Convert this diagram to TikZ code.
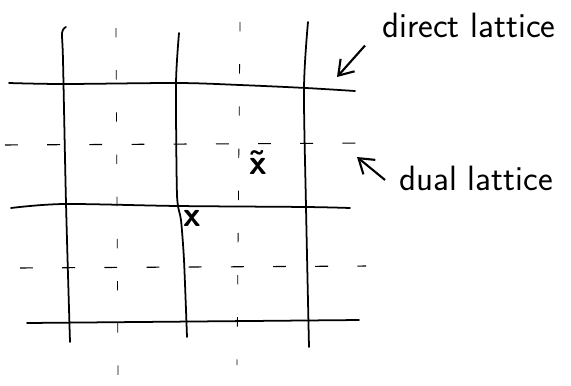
\documentclass[tikz,border=0pt]{standalone}
\usetikzlibrary{arrows.meta}
\begin{document}
\begin{tikzpicture}[
    x=0.03cm, y=-0.03cm,
    direct/.style={line width=1.5pt, line cap=round},
    dualh/.style={line width=0.9pt, dash pattern=on 11pt off 25pt},
    dualv/.style={line width=0.7pt, dash pattern=on 8pt off 28pt},
    lbl/.style={inner sep=0pt, anchor=base west, font=\sffamily\fontsize{30}{34}\selectfont},
    site/.style={inner sep=0pt, anchor=base, font=\sffamily\bfseries\fontsize{30}{34}\selectfont},
    pointer/.style={-{Straight Barb[length=12pt,width=16pt]}, line width=1.8pt}
]
    \useasboundingbox (0,0) rectangle (571,385);

    \draw[dualv] (116,28) -- (118,377);
    \draw[dualv] (240,22) -- (237,365);
    \draw[dualh] (5,145) -- (372,143);
    \draw[dualh] (20,268) -- (366,266);

    \draw[direct] plot[smooth] coordinates {(9,83) (64,84) (178,83) (240,85) (306,88) (355,91)};
    \draw[direct] plot[smooth] coordinates {(11,208) (64,204) (178,206) (306,207) (350,208)};
    \draw[direct] (27,323) -- (359,320);
    \draw[direct] plot[smooth] coordinates {(66,27) (62,33) (63,60) (66,203) (70,342)};
    \draw[direct] plot[smooth, tension=0.4] coordinates {(179,33) (176,83) (177,195) (181,220) (184,260) (187,337)};
    \draw[direct] plot[smooth] coordinates {(308,22) (304,88) (306,207) (309,347)};

    \node[site] (xt) at (258,174) {\~{x}};
    \node[site] (xo) at (192,226) {x};

    \node[lbl] (dirlabel) at (382,37) {direct lattice};
    \node[lbl] (duallabel) at (399,190) {dual lattice};
    \coordinate (dirtip) at (337,77);
    \coordinate (dualtip) at (357,157);

    \draw[pointer] ([shift={(-17,8)}]dirlabel.south west) -- (dirtip);
    \draw[pointer] ([shift={(-14,2)}]duallabel.west) -- (dualtip);
\end{tikzpicture}
\end{document}
